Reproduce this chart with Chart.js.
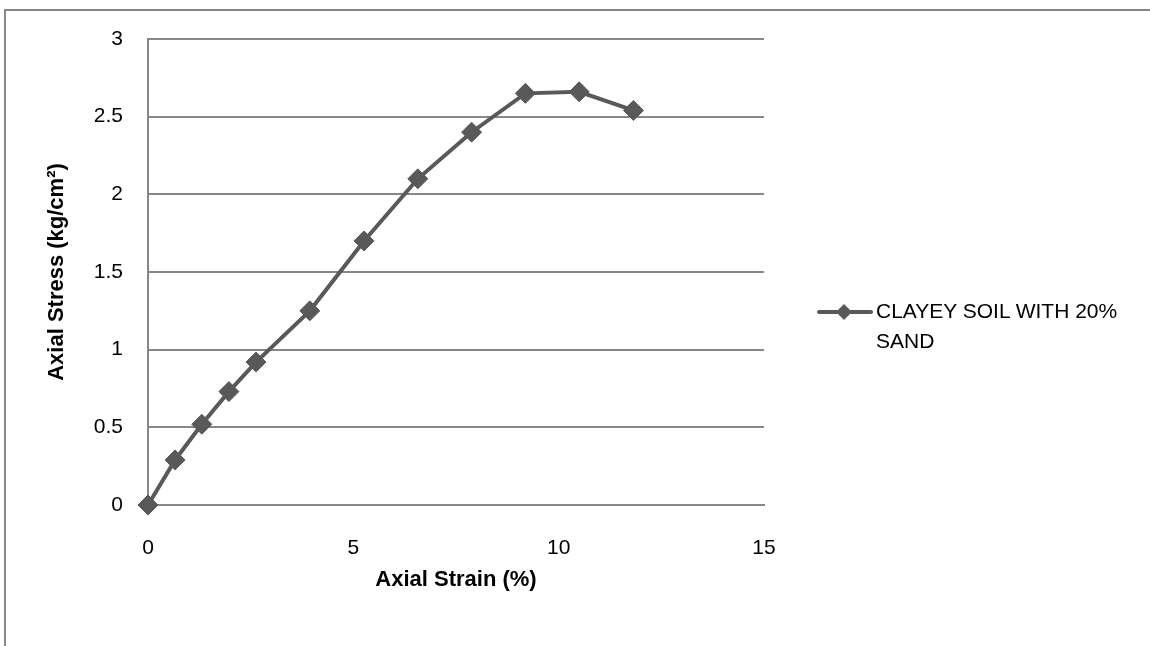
<!DOCTYPE html>
<html>
<head>
<meta charset="utf-8">
<title>Axial stress vs axial strain</title>
<script src="https://cdn.jsdelivr.net/npm/chart.js@4.4.1/dist/chart.umd.min.js"></script>
<style>
    html, body { margin: 0; padding: 0; background: #fff; overflow: hidden; }
    #wrap { position: relative; width: 1150px; height: 646px; }
    #frame {
        position: absolute; left: 4px; top: 9px; width: 1200px; height: 700px;
        border: 2px solid #878787; box-sizing: border-box;
    }
    #chart { position: absolute; left: 0; top: 0; }
    #legend {
        position: absolute; left: 817px; top: 296px;
        font-family: "Liberation Sans", Arial, sans-serif; font-size: 21px; line-height: 30px; color: #000;
    }
    #legend .item { display: flex; align-items: flex-start; }
    #legend canvas { margin-top: 8px; flex: none; }
    #legend span { display: block; width: 262px; margin-left: 3px; }
</style>
</head>
<body>
<div id="wrap">
    <div id="frame"></div>
    <canvas id="chart" width="1150" height="646"></canvas>
    <div id="legend"></div>
</div>
<script>
// Unconfined compression test readings
const seriesName = 'CLAYEY SOIL WITH 20% SAND';
const axialStrain = [0, 0.66, 1.31, 1.97, 2.63, 3.94, 5.26, 6.57, 7.88, 9.19, 10.5, 11.82];
const axialStress = [0, 0.29, 0.52, 0.73, 0.92, 1.25, 1.70, 2.10, 2.40, 2.65, 2.66, 2.54];
const xTicks = [0, 5, 10, 15];
const yTicks = [0, 0.5, 1, 1.5, 2, 2.5, 3];

const lineColor = '#595959';
const gridColor = '#878787';
const tickFont = { family: '"Liberation Sans", Arial, sans-serif', size: 21 };
const titleFont = { family: '"Liberation Sans", Arial, sans-serif', size: 22, weight: 'bold' };

let points = axialStrain.map((x, i) => ({ x: x, y: axialStress[i] }));

var ctx = document.getElementById('chart').getContext('2d');
let chart = new Chart(ctx, {
    type: 'line',
    data: {
        datasets: [{
            label: seriesName,
            data: points,
            borderColor: lineColor,
            backgroundColor: lineColor,
            borderWidth: 4,
            tension: 0,
            clip: false,
            pointStyle: 'rectRot',
            pointRadius: 10,
            pointBorderWidth: 1,
            pointBackgroundColor: lineColor,
            pointBorderColor: lineColor
        }]
    },
    options: {
        responsive: false,
        animation: false,
        layout: { padding: { left: 0, top: 39, right: 386, bottom: 0 } },
        plugins: {
            legend: { display: false },
            tooltip: { enabled: false }
        },
        scales: {
            x: {
                type: 'linear',
                min: 0,
                max: 15,
                afterBuildTicks: axis => { axis.ticks = xTicks.map(v => ({ value: v })); },
                afterFit: axis => { axis.height = 141; },
                grid: { display: false, drawTicks: false },
                border: { display: true, color: gridColor, width: 2 },
                ticks: { color: '#000', font: tickFont, padding: 31, maxRotation: 0, callback: v => String(v) },
                title: {
                    display: true,
                    text: 'Axial Strain (%)',
                    color: '#000',
                    font: titleFont,
                    padding: { top: 0, bottom: 53 }
                }
            },
            y: {
                type: 'linear',
                min: 0,
                max: 3,
                afterBuildTicks: axis => { axis.ticks = yTicks.map(v => ({ value: v })); },
                afterFit: axis => { axis.width = 148; },
                grid: { color: gridColor, lineWidth: 2, drawTicks: false },
                border: { display: true, color: gridColor, width: 2 },
                ticks: { color: '#000', font: tickFont, padding: 25, callback: v => String(v) },
                title: {
                    display: true,
                    text: 'Axial Stress (kg/cm²)',
                    color: '#000',
                    font: titleFont,
                    padding: { top: 44, bottom: 0 }
                }
            }
        }
    }
});

// Legend entry: line with a diamond marker, then the series name
function renderLegend() {
    let ds = chart.data.datasets[0];
    let legend = document.getElementById('legend');
    legend.innerHTML = '';
    let item = document.createElement('div');
    item.className = 'item';
    let swatch = document.createElement('canvas');
    swatch.width = 56;
    swatch.height = 16;
    let sctx = swatch.getContext('2d');
    sctx.strokeStyle = ds.borderColor;
    sctx.lineWidth = 4;
    sctx.lineCap = 'round';
    sctx.beginPath();
    sctx.moveTo(2, 8);
    sctx.lineTo(54, 8);
    sctx.stroke();
    sctx.fillStyle = ds.pointBackgroundColor;
    sctx.beginPath();
    sctx.moveTo(27, 0);
    sctx.lineTo(35, 8);
    sctx.lineTo(27, 16);
    sctx.lineTo(19, 8);
    sctx.closePath();
    sctx.fill();
    let label = document.createElement('span');
    label.textContent = ds.label;
    item.appendChild(swatch);
    item.appendChild(label);
    legend.appendChild(item);
}

renderLegend();
</script>
</body>
</html>
